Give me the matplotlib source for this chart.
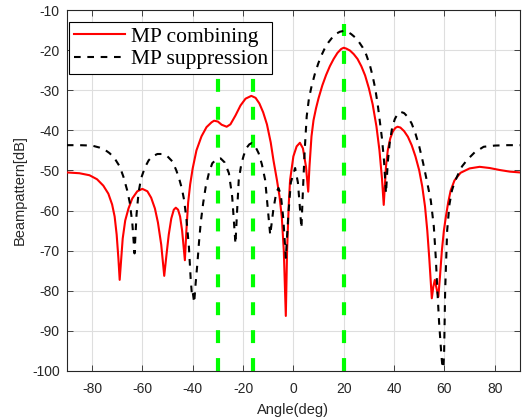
import matplotlib
matplotlib.use('Agg')
import matplotlib.pyplot as plt

plt.rcParams['axes.unicode_minus'] = False

# MP combining (red, solid)
comb_ang = [-90, -85, -81, -78, -75.5, -73.5, -72, -71, -70.2, -69.5, -69, -68.5, -67.8, -66.8, -65.5,
            -64, -62, -60, -58, -56.5, -55, -53.8, -52.5, -51.3, -50.4, -49.5, -48.5, -47.5, -46.7,
            -45.8, -45, -44.2, -43.1, -42.5, -41.8, -41, -40, -38.5, -36.5, -34.5, -32.5, -31.5,
            -30, -28.5, -26.5, -25, -23, -21, -19, -16.7, -15, -13.5, -12, -10.5, -9, -7.9, -6.5,
            -5.5, -4.6, -3.8, -3.0, -2.5, -1.8, -1.3, 0, 1.3, 2.6, 3.8, 5, 5.9, 6.4, 7.2, 8, 9, 10,
            11.5, 13, 14.5, 16, 17.5, 19, 20, 21, 22.5, 24, 25.5, 27, 28.5, 30, 31.5, 33, 34.2,
            35.2, 35.9, 36.8, 37.5, 38.5, 39.5, 40.5, 41.4, 42.5, 44, 45.5, 47, 48.5, 50, 51.2,
            52.3, 53.2, 54, 54.6, 55, 55.6, 56.2, 56.9, 57.6, 58.3, 59, 59.8, 60.6, 61.5, 62.5,
            64, 66.4, 70, 74, 78, 82, 86, 90]
comb_db = [-50.5, -50.7, -51.2, -52.2, -53.8, -55.8, -58.5, -61.5, -66, -72, -77.3, -73, -67, -62.5, -59.5,
           -57, -55.2, -54.6, -55.2, -56.8, -59.5, -63, -68.5, -76.3, -71, -66, -62, -59.8, -59.3,
           -59.8, -61.5, -65, -72.4, -65, -58, -53.5, -49.5, -45, -41.5, -39.2, -38, -37.6,
           -37.8, -38.6, -39.1, -38.5, -36.3, -33.8, -32.1, -31.4, -31.9, -33.3, -35.5, -38.5, -43, -47.5, -52.5,
           -56.5, -61.6, -70, -86.3, -70, -58, -52.4, -46.5, -44, -43.1, -44.5, -49, -55.3, -49, -41.5, -37.5, -34.5, -32,
           -28.8, -26.2, -24, -22.2, -20.7, -19.7, -19.4, -19.6, -20.1, -21, -22.2, -24, -26.3, -29.5, -33.5, -39, -45,
           -52, -58.6, -49, -45, -42, -40.3, -39.4, -39.1, -39.3, -40.2, -41.6, -43.7, -46.5, -50, -54,
           -59, -65, -72, -78, -81.9, -79, -77.3, -79.5, -81.5, -76, -70, -65, -61.5, -58, -55,
           -52.5, -50.6, -49.5, -49.1, -49.4, -49.9, -50.3, -50.5]

# MP suppression (black, dashed)
supp_ang = [-90, -85, -80, -77, -75, -73, -71, -69, -67.5, -66, -65, -64, -63.1, -62.3, -61.5,
            -60.5, -59, -57.5, -56, -54, -52, -50, -48, -46.5, -45.4, -44.3, -43.4, -42.5, -41.5,
            -40.8, -40.3, -40, -39.4, -38.8, -38.1, -37.5, -36.8, -35.8, -34.8, -33.5, -32.2,
            -30.5, -28.9, -27.3, -25.6, -24.3, -23, -22.4, -21.7, -20.7, -19.7, -18.5, -17.5,
            -16.6, -15.5, -14.5, -13.8, -12.5, -11.2, -10.1, -9.2, -8, -6.8, -5.9, -5, -4, -3, -2,
            -1, 0.7, 1.8, 2.5, 3.2, 3.8, 4.5, 5.3, 6.2, 7.2, 8.5, 9.9, 11, 12.5, 14, 15.5, 17,
            18.5, 20, 21.5, 23, 24.5, 26, 27.5, 29, 30.5, 31.5, 32.5, 33.5, 34.3, 35.2, 36, 36.8,
            37.5, 38.3, 39.2, 40.3, 41.5, 42.7, 44, 45.5, 47, 48.5, 50, 51.5, 53, 54.6, 55.8,
            56.6, 57.2, 57.9, 58.8, 59.5, 59.9, 60.3, 61.1, 62, 63, 64, 65.2, 67, 69, 72, 75.6,
            80, 85, 90]
supp_db = [-43.7, -43.7, -43.8, -44.3, -44.8, -45.7, -47, -49, -51.6, -55, -58, -63, -70.7, -61, -55.5,
           -52, -49.3, -47.5, -46.5, -45.9, -45.9, -46.5, -47.8, -50, -52, -54.5, -57.4, -62, -69,
           -77, -81, -80.3, -83, -78, -73, -68, -63, -58, -54, -50.5, -48.2,
           -47.2, -47, -48, -50.7, -56.6, -68.3, -60.7, -52.4, -48.5, -46.2, -44.3, -43.5,
           -43.2, -43.7, -44.8, -45.7, -48.5, -52.4, -60, -66.1, -60, -55.5, -54.4, -56, -62, -71.8, -61,
           -53, -49.4, -53, -58.5, -64.4, -55, -45, -36.5, -32, -29.1, -26, -23.3, -21.5, -19.5, -18, -16.8, -15.9,
           -15.4, -15.2, -15.4, -16, -16.8, -17.9, -19.3, -21.2, -24, -26.5, -29.5, -33.5, -37.5, -42, -47.5, -55.7,
           -48, -43, -39.5, -37.2, -35.8, -35.4, -35.7, -36.7, -38.3, -40.8, -44, -48, -52.5, -57.5, -64,
           -72, -79.8, -88, -96, -101, -95, -80, -65, -58.5, -55, -53, -51.3, -49, -47.4, -45.5, -44.1,
           -43.8, -43.7, -43.7]

# target directions (green markers)
target_ang = [-30, -16, 20]
marker_db = [-100, -13.5]

x_ticks = list(range(-80, 81, 20))
y_ticks = list(range(-100, -9, 10))

axis_col = '#262626'

fig = plt.figure(figsize=(5.22, 4.2), dpi=100)
ax = fig.add_axes([0.128, 0.117, 0.868, 0.859])

for a in target_ang:
    ax.plot([a, a], marker_db, color=(0, 1, 0), lw=3, dashes=(3.1, 3.6), zorder=2)

ax.plot(comb_ang, comb_db, color='red', lw=1.5, label='MP combining', zorder=3)
ax.plot(supp_ang, supp_db, color='black', lw=1.5, dashes=(3.2, 3.2),
        label='MP suppression', zorder=3)

ax.set_xlim(-90, 90)
ax.set_ylim(-100, -10)
ax.set_xticks(x_ticks)
ax.set_yticks(y_ticks)
ax.grid(True, color='#dedede', lw=0.8)
ax.set_axisbelow(True)
ax.tick_params(direction='in', top=True, right=True, colors=axis_col,
               labelsize=10, length=4, width=0.6)
ax.tick_params(axis='x', pad=8)
ax.tick_params(axis='y', pad=5)
for tl in ax.get_xticklabels() + ax.get_yticklabels():
    tl.set_family('Liberation Sans')
for s in ax.spines.values():
    s.set_color(axis_col)
    s.set_linewidth(0.8)

ax.set_xlabel('Angle(deg)', family='Liberation Sans', fontsize=10.5, color=axis_col, labelpad=5)
ax.set_ylabel('Beampattern[dB]', family='Liberation Sans', fontsize=10.5, color=axis_col, labelpad=4)

leg = ax.legend(loc='upper left', bbox_to_anchor=(0.0044, 0.9676),
                prop={'family': 'Liberation Serif', 'size': 15.5},
                fancybox=False, framealpha=1, edgecolor='black', handlelength=2.4,
                borderpad=0.22, labelspacing=0.12, handletextpad=0.25,
                borderaxespad=0)
leg.get_frame().set_linewidth(0.8)
leg.set_zorder(5)

fig.savefig('out.png', dpi=100)
